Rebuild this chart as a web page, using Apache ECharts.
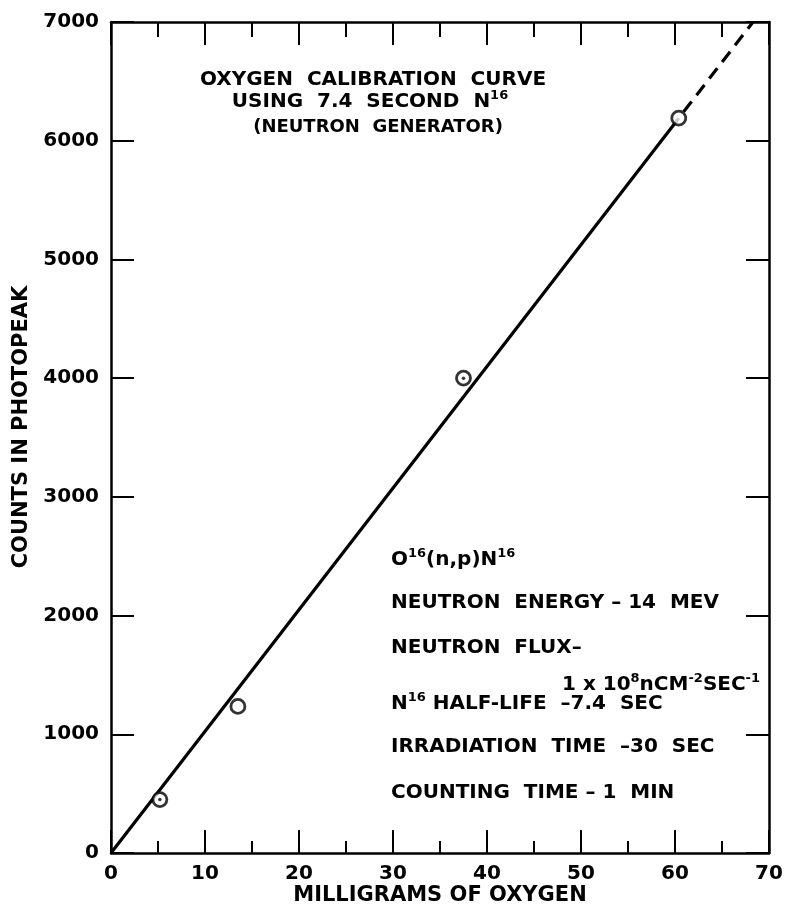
<!DOCTYPE html>
<html>
<head>
<meta charset="utf-8">
<title>Oxygen Calibration Curve</title>
<script src="https://cdn.jsdelivr.net/npm/echarts@6/dist/echarts.min.js"></script>
<style>
  html, body { margin: 0; padding: 0; background: #fff; }
  #chart { width: 787px; height: 906px; }
</style>
</head>
<body>
<div id="chart"></div>
<script>
// Measured samples: milligrams of oxygen vs counts in the N16 photopeak
const oxygenMg = [5.2, 13.5, 37.5, 60.4];
const photopeakCounts = [450, 1235, 4000, 6190];
const centreDot = [true, false, true, false];

// Calibration line: solid through the data, dashed extrapolation beyond it
const fitSolidMg = [0, 60.4];
const fitSolidCounts = [0, 6190];
const fitDashMg = [60.4, 68.3];
const fitDashCounts = [6190, 7000];

// Axis ranges and tick steps
const xRange = [0, 70];
const xStep = 10;
const yRange = [0, 7000];
const yStep = 1000;

const FONT = 'DejaVu Sans';
const INK = '#000';
const TICK_LEN = 23;

const pairs = (xs, ys) => xs.map((x, i) => [x, ys[i]]);
const samples = pairs(oxygenMg, photopeakCounts);
const dotted = samples.filter((_, i) => centreDot[i]);

const chart = echarts.init(document.getElementById('chart'), null, { renderer: 'canvas' });

const labelStyle = {
  color: INK, fontFamily: FONT, fontWeight: 'bold', fontSize: 20,
  formatter: (v) => String(v)
};

function xAxisDef(position, showLabels) {
  return {
    type: 'value', position: position, min: xRange[0], max: xRange[1], interval: xStep,
    axisLine: { show: true, onZero: false, lineStyle: { color: INK, width: 2.5 } },
    axisTick: { show: true, inside: true, length: TICK_LEN, lineStyle: { color: INK, width: 2 } },
    minorTick: { show: true, splitNumber: 2, length: position === 'top' ? 15 : 12, lineStyle: { color: INK, width: 2 } },
    splitLine: { show: false },
    axisLabel: Object.assign({ show: showLabels, margin: 11 }, labelStyle)
  };
}

function yAxisDef(position, showLabels) {
  return {
    type: 'value', position: position,
    min: yRange[0], max: yRange[1], interval: yStep,
    axisLine: { show: true, onZero: false, lineStyle: { color: INK, width: 2.5 } },
    axisTick: { show: true, inside: true, length: TICK_LEN, lineStyle: { color: INK, width: 2 } },
    splitLine: { show: false },
    axisLabel: Object.assign({ show: showLabels, margin: 12 }, labelStyle)
  };
}

const bottomX = xAxisDef('bottom', true);
bottomX.name = 'MILLIGRAMS OF OXYGEN';
bottomX.nameLocation = 'middle';
bottomX.nameGap = 32;
bottomX.nameMoveOverlap = false;
bottomX.nameTextStyle = { color: INK, fontFamily: FONT, fontWeight: 'bold', fontSize: 21 };

// Rich-text styles for the annotation lines (superscripts raised to the line top)
const rich = {
  t: { fontFamily: FONT, fontWeight: 'bold', fontSize: 20, color: INK, lineHeight: 26 },
  s: { fontFamily: FONT, fontWeight: 'bold', fontSize: 13, color: INK, lineHeight: 14, verticalAlign: 'top' },
  h: { fontFamily: FONT, fontWeight: 'bold', fontSize: 18, color: INK, lineHeight: 24 }
};

function note(x, y, text, align) {
  return {
    type: 'text', left: x, top: y, silent: true,
    style: { text: text, rich: rich, align: align || 'left', verticalAlign: 'middle' }
  };
}

chart.setOption({
  animation: false,
  backgroundColor: '#fff',
  grid: { left: 111, right: 18, top: 22, bottom: 53, outerBoundsMode: 'none', containLabel: false },
  xAxis: [bottomX, xAxisDef('top', false)],
  yAxis: [yAxisDef('left', true), yAxisDef('right', false)],
  series: [
    {
      type: 'line', xAxisIndex: 0, yAxisIndex: 0, data: pairs(fitSolidMg, fitSolidCounts),
      showSymbol: false, lineStyle: { color: INK, width: 3.2 }, z: 2
    },
    {
      type: 'line', xAxisIndex: 0, yAxisIndex: 0, data: pairs(fitDashMg, fitDashCounts),
      showSymbol: false, lineStyle: { color: INK, width: 3.2, type: [13, 8], dashOffset: -8 }, z: 2
    },
    {
      type: 'scatter', xAxisIndex: 0, yAxisIndex: 0, data: samples,
      symbol: 'circle', symbolSize: 14,
      itemStyle: { color: '#fff', borderColor: INK, borderWidth: 2.8 }, z: 3
    },
    {
      type: 'scatter', xAxisIndex: 0, yAxisIndex: 0, data: dotted,
      symbol: 'circle', symbolSize: 3.5,
      itemStyle: { color: INK }, z: 4
    }
  ],
  graphic: [
    // Vertical axis title
    { type: 'text', x: 22, y: 427, rotation: Math.PI / 2, silent: true,
      style: { text: 'COUNTS IN PHOTOPEAK', fill: INK, font: 'bold 21px "DejaVu Sans"', align: 'center', verticalAlign: 'middle' } },
    {
      type: 'group', left: 200, top: 70,
      children: [
        { type: 'text', x: 175, y: 14, silent: true,
          style: { text: '{t|OXYGEN  CALIBRATION  CURVE}', rich: rich, align: 'center', verticalAlign: 'middle' } },
        { type: 'text', x: 172, y: 36, silent: true,
          style: { text: '{t|USING  7.4  SECOND  N}{s|16}', rich: rich, align: 'center', verticalAlign: 'middle' } },
        { type: 'text', x: 180, y: 61, silent: true,
          style: { text: '{h|(NEUTRON  GENERATOR)}', rich: rich, align: 'center', verticalAlign: 'middle' } }
      ]
    },
    note(391, 547, '{t|O}{s|16}{t|(n,p)N}{s|16}'),
    note(391, 593, '{t|NEUTRON  ENERGY – 14  MEV}'),
    note(391, 638, '{t|NEUTRON  FLUX–}'),
    note(562, 672, '{t|1 x 10}{s|8}{t|nCM}{s|-2}{t|SEC}{s|-1}'),
    note(391, 691, '{t|N}{s|16}{t| HALF-LIFE  –7.4  SEC}'),
    note(391, 737, '{t|IRRADIATION  TIME  –30  SEC}'),
    note(391, 783, '{t|COUNTING  TIME – 1  MIN}')
  ]
});
</script>
</body>
</html>
